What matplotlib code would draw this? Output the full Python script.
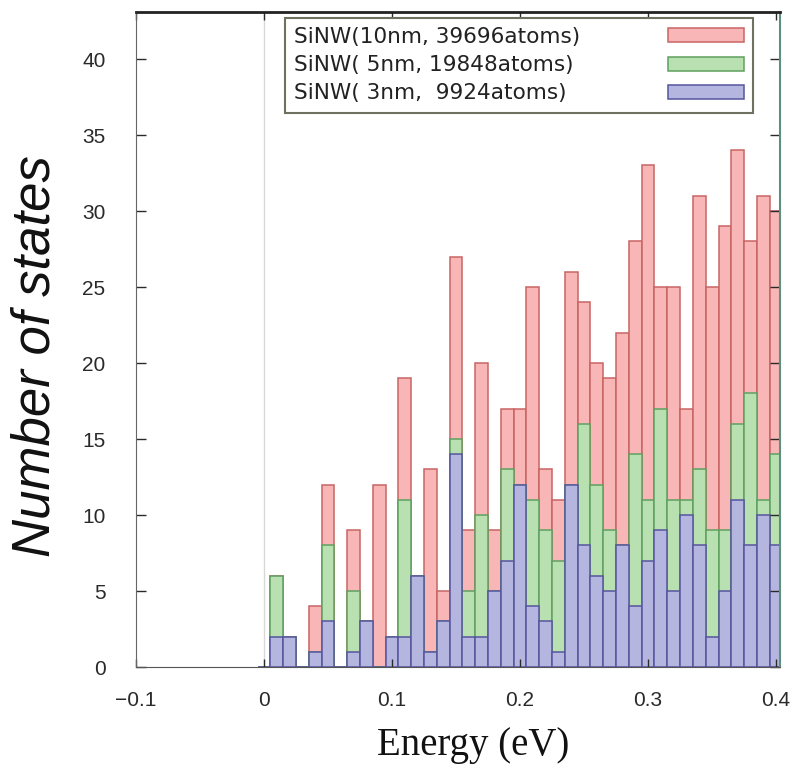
import numpy as np
import matplotlib as mplt
import matplotlib.pyplot as plt

# Bin centres (eV), bin width 0.01 eV
energy = [0.00, 0.01, 0.02, 0.03, 0.04, 0.05, 0.06, 0.07, 0.08, 0.09,
          0.10, 0.11, 0.12, 0.13, 0.14, 0.15, 0.16, 0.17, 0.18, 0.19,
          0.20, 0.21, 0.22, 0.23, 0.24, 0.25, 0.26, 0.27, 0.28, 0.29,
          0.30, 0.31, 0.32, 0.33, 0.34, 0.35, 0.36, 0.37, 0.38, 0.39,
          0.40]
bin_width = 0.01

# Number of states per bin
n_10nm = [0, 6, 2, 0, 4, 12, 0, 9, 3, 12,
          2, 19, 6, 13, 5, 27, 9, 20, 9, 17,
          17, 25, 13, 11, 26, 24, 20, 19, 22, 28,
          33, 25, 25, 17, 31, 25, 29, 34, 28, 31,
          30]
n_5nm = [0, 6, 2, 0, 1, 8, 0, 5, 3, 0,
         2, 11, 6, 1, 3, 15, 5, 10, 5, 13,
         12, 11, 9, 7, 12, 16, 12, 9, 8, 14,
         11, 17, 11, 11, 13, 9, 9, 16, 18, 11,
         14]
n_3nm = [0, 2, 2, 0, 1, 3, 0, 1, 3, 0,
         2, 2, 6, 1, 3, 14, 2, 2, 5, 7,
         12, 4, 3, 1, 12, 8, 6, 5, 8, 4,
         7, 9, 5, 10, 8, 2, 5, 11, 8, 10,
         8]

labels = ['SiNW(10nm, 39696atoms)',
          'SiNW( 5nm, 19848atoms)',
          'SiNW( 3nm,  9924atoms)']
fills = ['#f9b6b6', '#b8e0b1', '#b5b6e0']
edges = ['#c86464', '#5fa05f', '#55559e']

x_ticks = [-0.1, 0.0, 0.1, 0.2, 0.3, 0.4]
x_ticklabels = ['\u22120.1', '0', '0.1', '0.2', '0.3', '0.4']
y_ticks = [0, 5, 10, 15, 20, 25, 30, 35, 40]

mplt.rc('font', family='Liberation Sans')
mplt.rc('xtick', labelsize=15, direction='in', top=True, color='#2a2a2a')
mplt.rc('ytick', labelsize=15, direction='in', right=True, color='#2a2a2a')

fig = plt.figure(figsize=(7.92, 7.74), dpi=100)
ax = fig.add_axes([0.1717, 0.1382, 0.8131, 0.8463])

# faint reference line at E = 0
ax.axvline(0.0, color='#d8d8d8', lw=1.0, zorder=0)

for series, fc, ec, lab in zip([n_10nm, n_5nm, n_3nm], fills, edges, labels):
    ax.bar(energy, series, width=bin_width, align='center',
           color=fc, edgecolor=ec, linewidth=1.1, label=lab)

ax.set_xlim(-0.1, 0.403)
ax.set_ylim(0, 43.1)
ax.set_xticks(x_ticks)
ax.set_xticklabels(x_ticklabels)
ax.set_yticks(y_ticks)
ax.tick_params(axis='x', pad=17, length=6, width=1.0)
ax.tick_params(axis='y', pad=22, length=7, width=1.0)

ax.spines['left'].set_color('#666666')
ax.spines['bottom'].set_color('#555555')
ax.spines['top'].set_color('#222222')
ax.spines['top'].set_linewidth(2.0)
ax.spines['right'].set_color('#5f8f7f')
ax.spines['right'].set_linewidth(1.5)

leg = ax.legend(loc='upper right', bbox_to_anchor=(0.958, 0.991),
                borderaxespad=0, markerfirst=False, fancybox=False,
                framealpha=1.0, edgecolor='#707060',
                prop={'family': 'DejaVu Sans', 'size': 15.6},
                handlelength=3.5, handleheight=0.62, handletextpad=4.0,
                labelspacing=0.38, borderpad=0.42)
leg.get_frame().set_linewidth(1.5)
for txt in leg.get_texts():
    txt.set_color('#222222')
# left-align the labels, keep the colour patches flush right
for col in leg._legend_handle_box.get_children():
    col.width = 450
    for row in col.get_children():
        row.mode = 'expand'

# axis titles
fig.text(36 / 792, 1 - 356 / 774, 'Number of states', rotation=90,
         ha='center', va='center', fontsize=38, style='italic',
         family='Liberation Sans', color='#111111')
fig.text(473 / 792, 1 - 745 / 774, 'Energy (eV)', ha='center', va='center',
         fontsize=28, family='Liberation Serif', color='#111111')

plt.savefig('out.png', dpi=100)
